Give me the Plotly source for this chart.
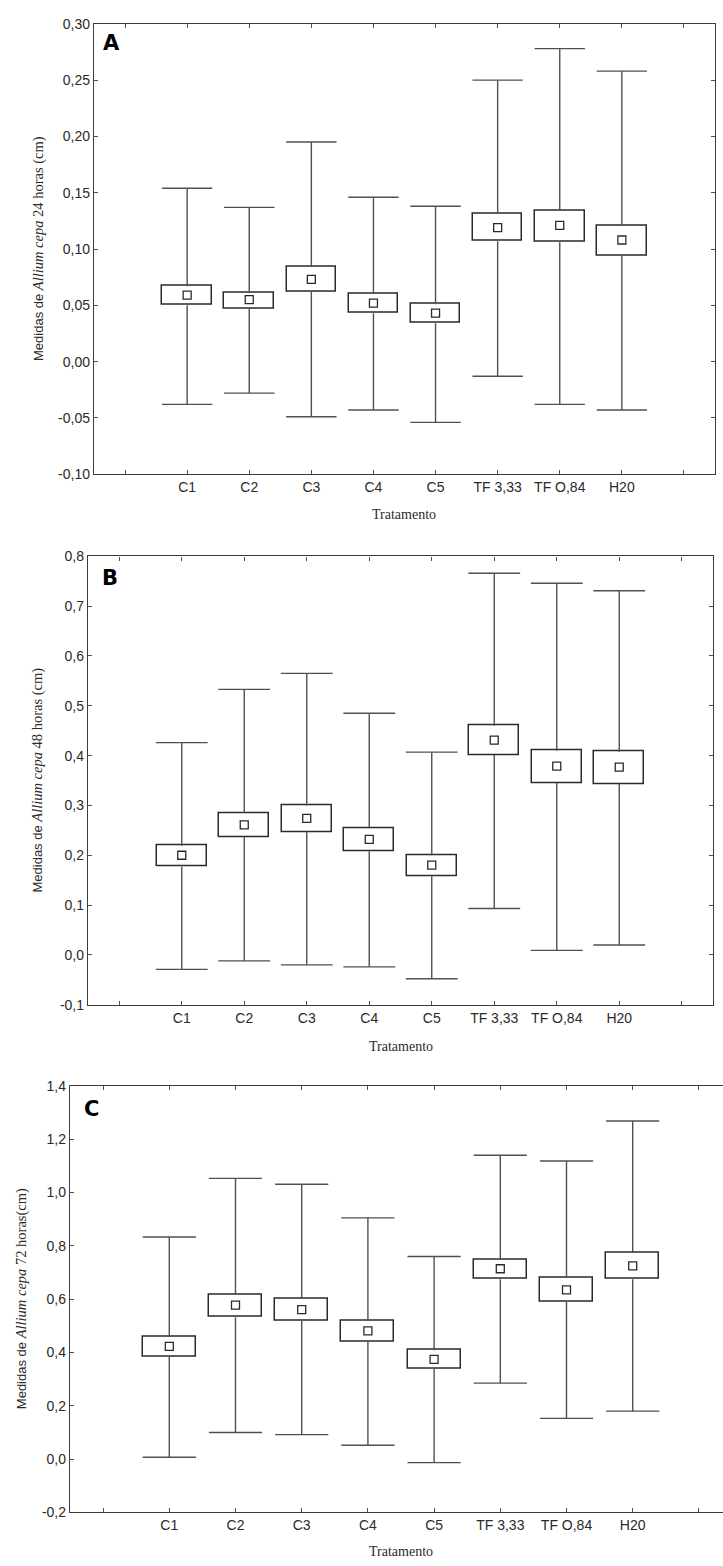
import numpy as np
import plotly.graph_objects as go

categories = ["C1", "C2", "C3", "C4", "C5", "TF 3,33", "TF O,84", "H20"]

# Panel A (24 h)
mean_a = [0.059, 0.055, 0.073, 0.052, 0.043, 0.119, 0.121, 0.108]
box_lo_a = [0.050, 0.047, 0.062, 0.043, 0.034, 0.107, 0.106, 0.094]
box_hi_a = [0.067, 0.061, 0.084, 0.060, 0.051, 0.131, 0.134, 0.121]
wh_lo_a = [-0.038, -0.028, -0.049, -0.043, -0.054, -0.013, -0.038, -0.043]
wh_hi_a = [0.154, 0.137, 0.195, 0.146, 0.138, 0.250, 0.278, 0.258]

# Panel B (48 h)
mean_b = [0.200, 0.261, 0.274, 0.232, 0.180, 0.431, 0.379, 0.377]
box_lo_b = [0.177, 0.236, 0.247, 0.208, 0.158, 0.401, 0.345, 0.343]
box_hi_b = [0.219, 0.285, 0.300, 0.254, 0.200, 0.460, 0.410, 0.408]
wh_lo_b = [-0.029, -0.012, -0.020, -0.024, -0.048, 0.093, 0.009, 0.020]
wh_hi_b = [0.426, 0.533, 0.565, 0.485, 0.407, 0.766, 0.746, 0.731]

# Panel C (72 h)
mean_c = [0.423, 0.578, 0.561, 0.481, 0.374, 0.714, 0.635, 0.725]
box_lo_c = [0.383, 0.532, 0.519, 0.441, 0.340, 0.675, 0.590, 0.675]
box_hi_c = [0.458, 0.617, 0.603, 0.519, 0.408, 0.749, 0.679, 0.773]
wh_lo_c = [0.007, 0.100, 0.092, 0.052, -0.013, 0.285, 0.153, 0.180]
wh_hi_c = [0.833, 1.053, 1.031, 0.905, 0.760, 1.140, 1.118, 1.268]

yticks_a = [-0.10, -0.05, 0.00, 0.05, 0.10, 0.15, 0.20, 0.25, 0.30]
yticks_b = [-0.1, 0.0, 0.1, 0.2, 0.3, 0.4, 0.5, 0.6, 0.7, 0.8]
yticks_c = [-0.2, 0.0, 0.2, 0.4, 0.6, 0.8, 1.0, 1.2, 1.4]

W, H = 723, 1566
BOX_C = "#2a2a2a"
WH_C = "#505050"
AX_C = "#3c3c3c"
TXT_C = "#2a2a2a"
SANS = "Liberation Sans"
SERIF = "Liberation Serif"

xpos = np.arange(1, len(categories) + 1)
xtickvals = list(range(0, len(categories) + 2))
xticktext = [""] + categories + [""]


def fmt(v, d):
    return f"{v:.{d}f}".replace(".", ",")


def segs(xs, ya, yb):
    sx, sy = [], []
    for x, a, b in zip(xs, ya, yb):
        sx += [x, x, None]
        sy += [a, b, None]
    return sx, sy


fig = go.Figure()

panels = [
    dict(ax="", mean=mean_a, blo=box_lo_a, bhi=box_hi_a, wlo=wh_lo_a, whi=wh_hi_a,
         px=(94, 715), py=(16, 471), yr=(-0.10, 0.30), yt=yticks_a, dec=2,
         xr=(-0.5, 9.5), mirror=True, cap=36),
    dict(ax="2", mean=mean_b, blo=box_lo_b, bhi=box_hi_b, wlo=wh_lo_b, whi=wh_hi_b,
         px=(88, 713), py=(554, 1007), yr=(-0.1, 0.8), yt=yticks_b, dec=1,
         xr=(-0.5, 9.5), mirror=True, cap=37),
    dict(ax="3", mean=mean_c, blo=box_lo_c, bhi=box_hi_c, wlo=wh_lo_c, whi=wh_hi_c,
         px=(70, 723), py=(1089, 1520), yr=(-0.2, 1.4), yt=yticks_c, dec=1,
         xr=(-0.5, -0.5 + (723 - 70) / 66.2), mirror=False, cap=38),
]

layout = dict(
    width=W, height=H, margin=dict(l=0, r=0, t=0, b=0),
    paper_bgcolor="white", plot_bgcolor="white",
    showlegend=False, bargap=0,
    font=dict(family=SANS, size=14, color=TXT_C),
)

for p in panels:
    xa = "x" + p["ax"]
    ya = "y" + p["ax"]
    blo = np.array(p["blo"])
    bhi = np.array(p["bhi"])
    wlo = np.array(p["wlo"])
    whi = np.array(p["whi"])
    # whisker stems
    ux, uy = segs(xpos, bhi, whi)
    lx, ly = segs(xpos, blo, wlo)
    fig.add_trace(go.Scatter(
        x=ux + lx, y=uy + ly, xaxis=xa, yaxis=ya, mode="lines",
        line=dict(color=WH_C, width=1.4), hoverinfo="skip"))
    # whisker caps
    fig.add_trace(go.Scatter(
        x=np.concatenate([xpos, xpos]), y=np.concatenate([whi, wlo]),
        xaxis=xa, yaxis=ya, mode="markers",
        marker=dict(symbol="line-ew", size=p["cap"], color=WH_C,
                    line=dict(color=WH_C, width=1.4)),
        hoverinfo="skip"))
    # box (mean +/- SE)
    fig.add_trace(go.Bar(
        x=xpos, y=bhi - blo, base=blo, width=0.8, xaxis=xa, yaxis=ya,
        marker=dict(color="white", line=dict(color=BOX_C, width=1.5)),
        hoverinfo="skip"))
    # mean markers
    fig.add_trace(go.Scatter(
        x=xpos, y=p["mean"], xaxis=xa, yaxis=ya, mode="markers",
        marker=dict(symbol="square-open", size=8, color=BOX_C,
                    line=dict(width=1.3, color=BOX_C)),
        hoverinfo="skip"))

    x0, x1 = p["px"]
    y0, y1 = p["py"]
    xkey = "xaxis" + p["ax"]
    ykey = "yaxis" + p["ax"]
    layout[xkey] = dict(
        domain=[x0 / W, min(x1 / W, 1.0)], anchor=ya, range=list(p["xr"]),
        tickmode="array", tickvals=xtickvals, ticktext=xticktext,
        ticks="inside", ticklen=4, tickcolor=WH_C, tickwidth=1,
        showline=True, linecolor=AX_C, linewidth=1.4, mirror="ticks",
        showgrid=False, zeroline=False, fixedrange=True,
        tickfont=dict(family=SANS, size=14, color=TXT_C),
    )
    layout[ykey] = dict(
        domain=[1 - y1 / H, 1 - y0 / H], anchor=xa, range=list(p["yr"]),
        tickmode="array", tickvals=p["yt"], ticktext=[fmt(v, p["dec"]) for v in p["yt"]],
        ticks="inside", ticklen=4, tickcolor=WH_C, tickwidth=1,
        showline=True, linecolor=AX_C, linewidth=1.4,
        mirror="ticks" if p["mirror"] else False,
        showgrid=False, zeroline=False, fixedrange=True,
        tickfont=dict(family=SANS, size=14, color=TXT_C),
    )

fig.update_layout(**layout)

annotations = []
# panel letters
for letter, (lx, ly) in zip(["A", "B", "C"], [(111, 35), (110, 576), (91, 1112)]):
    annotations.append(dict(
        text=f"<b>{letter}</b>", x=lx / W, y=1 - ly / H, xref="paper", yref="paper",
        showarrow=False, xanchor="center", yanchor="middle",
        font=dict(family="DejaVu Sans", size=21, color="black")))

# y axis titles
ytitles = [
    ("24 horas (cm)", 38, (16 + 471) / 2),
    ("48 horas (cm)", 38, (554 + 1007) / 2),
    ("72 horas(cm)", 21, (1089 + 1520) / 2),
]
for suffix, tx, ty in ytitles:
    annotations.append(dict(
        text=(f'<span style="font-family:{SANS};font-size:13px">Medidas de </span>'
              f'<i>Allium cepa</i> {suffix}'),
        x=tx / W, y=1 - ty / H, xref="paper", yref="paper", textangle=-90,
        showarrow=False, xanchor="center", yanchor="middle",
        font=dict(family=SERIF, size=14.5, color=TXT_C)))

# x axis titles
for tx, ty in [(404, 512), (401, 1049), (401, 1559)]:
    annotations.append(dict(
        text="Tratamento", x=tx / W, y=1 - ty / H, xref="paper", yref="paper",
        showarrow=False, xanchor="center", yanchor="middle",
        font=dict(family=SERIF, size=14, color=TXT_C)))

fig.update_layout(annotations=annotations)

fig.write_html("out.html")
